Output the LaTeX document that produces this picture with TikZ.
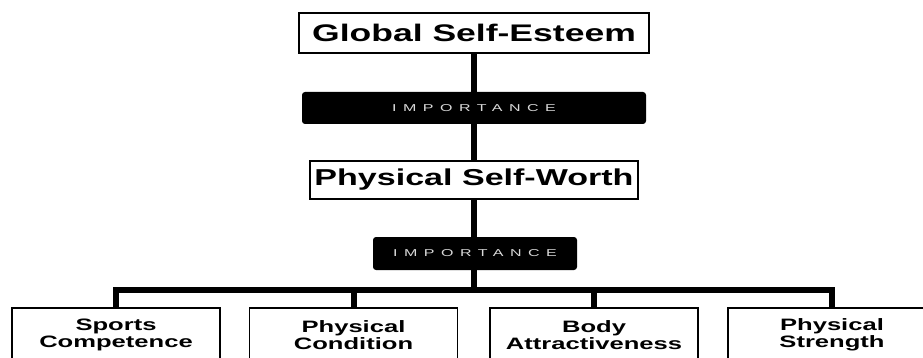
\documentclass[tikz,border=0pt]{standalone}
\usepackage{fontspec}
\setmainfont{Liberation Sans}
\newfontfamily\topfont[FakeStretch=1.48]{Liberation Sans}
\newfontfamily\botfont[FakeStretch=1.55]{Liberation Sans}
\newfontfamily\impfont[FakeStretch=1.6,LetterSpace=65]{Liberation Sans}
\usetikzlibrary{backgrounds}
\begin{document}
\begin{tikzpicture}[x=1pt,y=-1pt,
  box/.style={draw=black,line width=1.6pt,fill=white,inner sep=0pt},
  topbox/.style={box,minimum width=350pt,minimum height=40pt,
    font=\topfont\bfseries\fontsize{24}{28}\selectfont},
  midbox/.style={box,minimum width=328pt,minimum height=38pt,
    font=\topfont\bfseries\fontsize{23}{27}\selectfont},
  botbox/.style={box,anchor=north,minimum width=208pt,minimum height=54pt,
    align=center,font=\botfont\bfseries\fontsize{16.5}{17}\selectfont},
  bar/.style={fill=black,rounded corners=3pt,inner sep=0pt,
    text=white!85!black,font=\impfont\fontsize{10}{12}\selectfont},
  conn/.style={line width=6pt}]
\useasboundingbox (0,0) rectangle (923,358);
\clip (0,0) rectangle (923,358);
\node[topbox] (gse) at (474,33) {Global Self-Esteem};
\node[bar,minimum width=344pt,minimum height=32pt] (imp1) at (474,108) {IMPORTANCE};
\node[midbox] (psw) at (474,180) {Physical Self-Worth};
\node[bar,minimum width=204pt,minimum height=33pt] (imp2) at (475,253.5) {IMPORTANCE};
\coordinate (hub) at (474,290);
\node[botbox] (sc) at (116,307) {Sports\\Competence};
\node[botbox] (pc) at (353.5,307) {Physical\\Condition};
\node[botbox] (ba) at (594,307) {Body\\Attractiveness};
\node[botbox] (ps) at (832,307) {Physical\\Strength};
\begin{scope}[on background layer]
\draw[conn] (gse.south) -- (psw.north);
\draw[conn] (psw.south) -- (hub);
\draw[conn] (hub) -| (sc.north);
\draw[conn] (hub) -| (pc.north);
\draw[conn] (hub) -| (ba.north);
\draw[conn] (hub) -| (ps.north);
\end{scope}
\end{tikzpicture}
\end{document}
